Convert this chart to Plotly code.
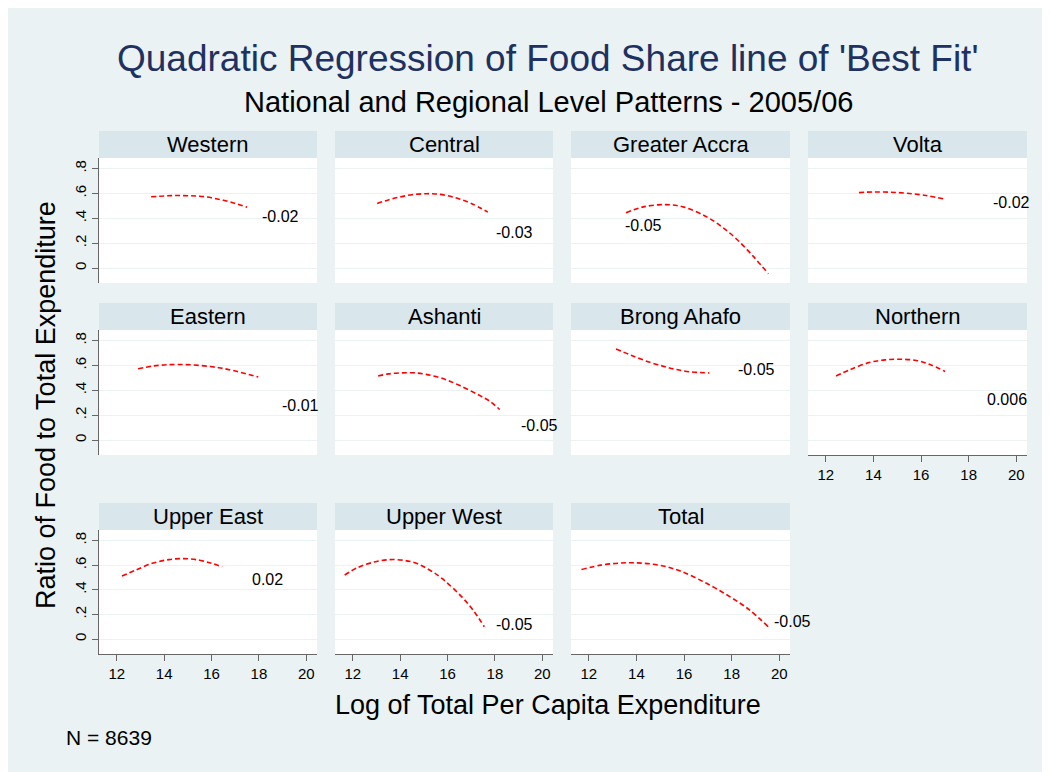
import plotly.graph_objects as go

OFF = 8  # page body margin; positions below are in page pixels
W, H = 1100, 820

regions = ["Western", "Central", "Greater Accra", "Volta",
           "Eastern", "Ashanti", "Brong Ahafo", "Northern",
           "Upper East", "Upper West", "Total"]

western_x = [13.45, 14.0, 14.5, 15.0, 15.5, 16.0, 16.5, 17.0, 17.5]
western_y = [0.573, 0.58, 0.583, 0.582, 0.578, 0.565, 0.545, 0.52, 0.49]
central_x = [13.03, 13.5, 14.0, 14.5, 15.1, 15.5, 16.0, 16.5, 17.0, 17.7]
central_y = [0.52, 0.548, 0.572, 0.59, 0.598, 0.596, 0.582, 0.556, 0.52, 0.45]
accra_x = [13.56, 14.29, 15.2, 16.0, 16.95, 17.6, 18.21, 18.91, 19.54]
accra_y = [0.444, 0.492, 0.51, 0.49, 0.412, 0.33, 0.232, 0.094, -0.046]
volta_x = [13.39, 14.0, 14.7, 15.4, 16.2, 17.04]
volta_y = [0.607, 0.612, 0.61, 0.602, 0.584, 0.553]
eastern_x = [12.9, 13.5, 14.0, 14.65, 15.5, 16.3, 17.0, 17.97]
eastern_y = [0.573, 0.595, 0.604, 0.608, 0.6, 0.582, 0.555, 0.507]
ashanti_x = [13.07, 13.5, 14.0, 14.54, 15.1, 15.8, 16.5, 17.34, 17.8, 18.2]
ashanti_y = [0.515, 0.532, 0.54, 0.541, 0.528, 0.495, 0.44, 0.36, 0.31, 0.246]
brong_x = [13.14, 13.8, 14.57, 15.2, 15.69, 16.3, 17.06]
brong_y = [0.733, 0.68, 0.625, 0.59, 0.567, 0.548, 0.54]
northern_x = [12.43, 13.0, 13.86, 14.5, 15.12, 15.8, 16.4, 17.01]
northern_y = [0.515, 0.565, 0.625, 0.645, 0.65, 0.64, 0.605, 0.552]
uppereast_x = [12.22, 12.8, 13.5, 14.2, 14.8, 15.5, 16.0, 16.45]
uppereast_y = [0.512, 0.56, 0.615, 0.645, 0.653, 0.64, 0.615, 0.587]
upperwest_x = [11.66, 12.2, 12.9, 13.57, 14.2, 14.68, 15.2, 15.78, 16.59, 17.1, 17.55]
upperwest_y = [0.52, 0.58, 0.625, 0.645, 0.638, 0.615, 0.565, 0.49, 0.345, 0.23, 0.101]
total_x = [11.69, 12.5, 13.3, 13.9, 14.6, 15.3, 15.91, 16.92, 17.92, 18.73, 19.53]
total_y = [0.565, 0.6, 0.617, 0.619, 0.61, 0.585, 0.547, 0.455, 0.345, 0.24, 0.101]

curves_x = [western_x, central_x, accra_x, volta_x, eastern_x, ashanti_x,
            brong_x, northern_x, uppereast_x, upperwest_x, total_x]
curves_y = [western_y, central_y, accra_y, volta_y, eastern_y, ashanti_y,
            brong_y, northern_y, uppereast_y, upperwest_y, total_y]

coef_labels = ["-0.02", "-0.03", "-0.05", "-0.02", "-0.01", "-0.05",
               "-0.05", "0.006", "0.02", "-0.05", "-0.05"]
coef_x = [18.13, 18.06, 13.52, 19.04, 18.98, 19.09, 18.28, 18.76, 17.71, 18.03, 19.78]
coef_y = [0.416, 0.287, 0.341, 0.529, 0.275, 0.12, 0.568, 0.33, 0.485, 0.12, 0.14]

x_ticks = [12, 14, 16, 18, 20]
x_ticktext = ["12", "14", "16", "18", "20"]
y_ticks = [0, 0.2, 0.4, 0.6, 0.8]
y_ticktext = ["0", ".2", ".4", ".6", ".8"]

title_text = "Quadratic Regression of Food Share line of 'Best Fit'"
subtitle_text = "National and Regional Level Patterns - 2005/06"
xtitle_text = "Log of Total Per Capita Expenditure"
ytitle_text = "Ratio of Food to Total Expenditure"
note_text = "N = 8639"

# layout geometry (page pixels)
col_edges = [(99, 317), (335, 553), (571, 790), (808, 1027)]
row_edges = [(158, 283), (330, 455), (530, 654)]
strip_h = 27
bottom_panels = {"Northern", "Upper East", "Upper West", "Total"}

BG = "#EAF2F3"
STRIP = "#D9E6EB"
AXC = "#666666"
FONT = "Liberation Sans, Arial, Helvetica, sans-serif"


def px(x):
    return (x - OFF) / W


def py(y):
    return 1 - (y - OFF) / H


fig = go.Figure()
layout = dict(
    width=W, height=H,
    margin=dict(l=0, r=0, t=0, b=0),
    paper_bgcolor=BG, plot_bgcolor="white",
    showlegend=False,
    font=dict(family=FONT, color="black"),
)
shapes = []
annotations = []

for i, name in enumerate(regions):
    r, c = divmod(i, 4)
    x0, x1 = col_edges[c]
    y0, y1 = row_edges[r]
    n = i + 1
    xa = "xaxis" if n == 1 else f"xaxis{n}"
    ya = "yaxis" if n == 1 else f"yaxis{n}"
    xref = "x" if n == 1 else f"x{n}"
    yref = "y" if n == 1 else f"y{n}"
    is_bottom = name in bottom_panels
    is_left = c == 0
    layout[xa] = dict(
        domain=[px(x0), px(x1)], anchor=yref, range=[11.25, 20.45],
        showgrid=False, zeroline=False,
        showline=is_bottom, linecolor=AXC, linewidth=1.3,
        ticks="outside" if is_bottom else "", ticklen=6, tickcolor=AXC, tickwidth=1.3,
        tickvals=x_ticks, ticktext=x_ticktext, showticklabels=is_bottom,
        tickfont=dict(size=15, family=FONT, color="black"),
        fixedrange=True,
    )
    layout[ya] = dict(
        domain=[py(y1), py(y0)], anchor=xref, range=[-0.12, 0.885],
        showgrid=True, gridcolor=BG, gridwidth=1.2, zeroline=False,
        showline=is_left, linecolor=AXC, linewidth=1.3,
        ticks="outside" if is_left else "", ticklen=6, tickcolor=AXC, tickwidth=1.3,
        tickvals=y_ticks, ticktext=y_ticktext, showticklabels=is_left,
        tickangle=-90, tickfont=dict(size=15, family=FONT, color="black"),
        fixedrange=True,
    )
    fig.add_trace(go.Scatter(
        x=curves_x[i], y=curves_y[i], mode="lines",
        line=dict(color="#FF0000", width=1.6, dash="5px,3px", shape="spline"),
        xaxis=xref, yaxis=yref, hoverinfo="skip",
    ))
    shapes.append(dict(type="rect", xref="paper", yref="paper",
                       x0=px(x0), x1=px(x1), y0=py(y0), y1=py(y0 - strip_h),
                       fillcolor=STRIP, line=dict(width=0), layer="above"))
    annotations.append(dict(text=name, xref="paper", yref="paper",
                            x=px((x0 + x1) / 2), y=py(y0 - strip_h / 2),
                            xanchor="center", yanchor="middle", showarrow=False,
                            font=dict(size=22, family=FONT, color="black")))
    annotations.append(dict(text=coef_labels[i], xref=xref, yref=yref,
                            x=coef_x[i], y=coef_y[i], xanchor="left", yanchor="middle",
                            showarrow=False, xshift=-2,
                            font=dict(size=16, family=FONT, color="black")))

annotations += [
    dict(text=title_text, xref="paper", yref="paper", x=px(547), y=py(58),
         xanchor="center", yanchor="middle", showarrow=False,
         font=dict(size=37, family=FONT, color="#1E3160")),
    dict(text=subtitle_text, xref="paper", yref="paper", x=px(548), y=py(102),
         xanchor="center", yanchor="middle", showarrow=False,
         font=dict(size=29, family=FONT, color="black")),
    dict(text=xtitle_text, xref="paper", yref="paper", x=px(548), y=py(705),
         xanchor="center", yanchor="middle", showarrow=False,
         font=dict(size=27, family=FONT, color="black")),
    dict(text=ytitle_text, xref="paper", yref="paper", x=px(46), y=py(405),
         xanchor="center", yanchor="middle", showarrow=False, textangle=-90,
         font=dict(size=27, family=FONT, color="black")),
    dict(text=note_text, xref="paper", yref="paper", x=px(64), y=py(737),
         xanchor="left", yanchor="middle", showarrow=False,
         font=dict(size=21, family=FONT, color="black")),
]

layout["shapes"] = shapes
layout["annotations"] = annotations
fig.update_layout(**layout)
fig.write_html("out.html")
